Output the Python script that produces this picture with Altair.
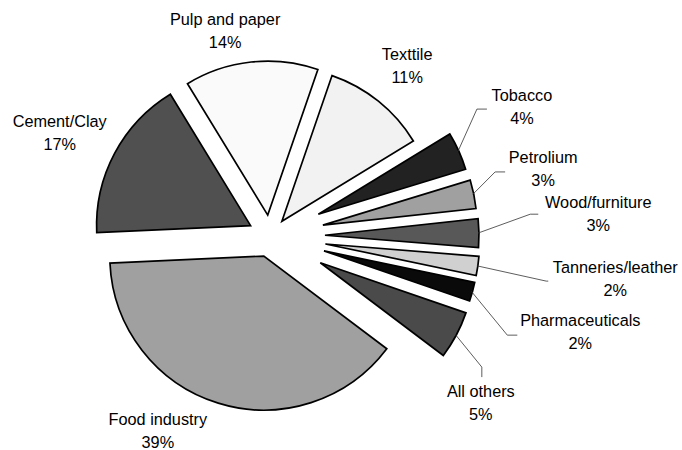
import math
import numpy as np
import pandas as pd
import altair as alt

# ---------------- data ----------------
categories = ["Food industry", "Cement/Clay", "Pulp and paper", "Texttile", "Tobacco",
              "Petrolium", "Wood/furniture", "Tanneries/leather", "Pharmaceuticals", "All others"]
percents = [39, 17, 14, 11, 4, 3, 3, 2, 2, 5]

# ---------------- style / layout ----------------
colors = ["#A0A0A0", "#505050", "#FAFAFA", "#F2F2F2", "#222222",
          "#A0A0A0", "#585858", "#D0D0D0", "#0A0A0A", "#4A4A4A"]
explode = [21, 22, 21, 19, 53, 54, 55, 56, 56, 57]          # px slice pulled out
label_radius = [225, 234, 209, 218, 283, 281, 329, 348, 325, 269]
label_turn = [12.7, -2, -6.2, 0.2, -2.9, -2, -3, -1, 1.9, 10.4]  # deg vs. slice bisector
# leader lines: (end offset from label centre, elbow offset from end)
leaders = {
    "Tobacco": ((-35, 2), (-10, 0)),
    "Petrolium": ((-38, 2), (-10, 0)),
    "Wood/furniture": ((-60, 0), (-8, 0)),
    "Tanneries/leather": ((-67, 1.5), (-2, 0)),
    "Pharmaceuticals": ((-63, 2.5), (-10, 0)),
    "All others": ((1, -26), (0, -10)),
}
W, H = 682, 450
CX, CY = 270, 236
R = 154
START_DEG = 127
FONT = "Liberation Sans"
FONT_SIZE = 16.3
LINE_H = 23

# ---------------- geometry table ----------------
pct = np.array(percents, dtype=float)
end = np.cumsum(pct)
start = end - pct
mid = np.radians(START_DEG + (start + end) / 2 * 3.6)
ex = np.array(explode, dtype=float)
cx = CX + ex * np.sin(mid)
cy = CY - ex * np.cos(mid)
la = mid + np.radians(label_turn)
lr = np.array(label_radius, dtype=float)
lx = CX + lr * np.sin(la)
ly = CY - lr * np.cos(la)

df = pd.DataFrame({
    "category": categories,
    "pct": percents,
    "start": start,
    "end": end,
    "cx": cx,
    "cy": cy,
    "lx": lx,
    "ly": ly,
    "label": [f"{c}\n{p}%" for c, p in zip(categories, percents)],
})

rows = []
for i, c in enumerate(categories):
    if c not in leaders:
        continue
    (ox, oy), (bx, by) = leaders[c]
    sx = cx[i] + (R - 1) * math.sin(mid[i])
    sy = cy[i] - (R - 1) * math.cos(mid[i])
    exx, eyy = lx[i] + ox, ly[i] + oy
    rows += [
        {"category": c, "seq": 0, "x": sx, "y": sy},
        {"category": c, "seq": 1, "x": exx + bx, "y": eyy + by},
        {"category": c, "seq": 2, "x": exx, "y": eyy},
    ]
lead_df = pd.DataFrame(rows)

xs = alt.Scale(domain=[0, W], range=[0, W])
ys = alt.Scale(domain=[0, H], range=[0, H])
S = math.radians(START_DEG)

arcs = alt.Chart(df).mark_arc(radius=R, stroke="black", strokeWidth=1.7).encode(
    x=alt.X("cx:Q", scale=xs, axis=None),
    y=alt.Y("cy:Q", scale=ys, axis=None),
    theta=alt.Theta("start:Q", scale=alt.Scale(domain=[0, 100], range=[S, S + 2 * math.pi]), stack=None),
    theta2="end:Q",
    color=alt.Color("category:N", scale=alt.Scale(domain=categories, range=colors), legend=None),
)

lines = alt.Chart(lead_df).mark_line(color="#333333", strokeWidth=0.8).encode(
    x=alt.X("x:Q", scale=xs, axis=None),
    y=alt.Y("y:Q", scale=ys, axis=None),
    detail="category:N",
    order="seq:O",
)

labels = alt.Chart(df).mark_text(
    font=FONT, fontSize=FONT_SIZE, lineBreak="\n", lineHeight=LINE_H,
    align="center", baseline="middle", color="black", dy=-LINE_H / 2,
).encode(
    x=alt.X("lx:Q", scale=xs, axis=None),
    y=alt.Y("ly:Q", scale=ys, axis=None),
    text="label:N",
)

chart = alt.layer(arcs, lines, labels).properties(
    width=W, height=H, padding=0, autosize=alt.AutoSizeParams(type="none"),
    background="white",
).configure_view(stroke=None)

chart.save("out.html", embed_options={"renderer": "svg", "actions": False})
